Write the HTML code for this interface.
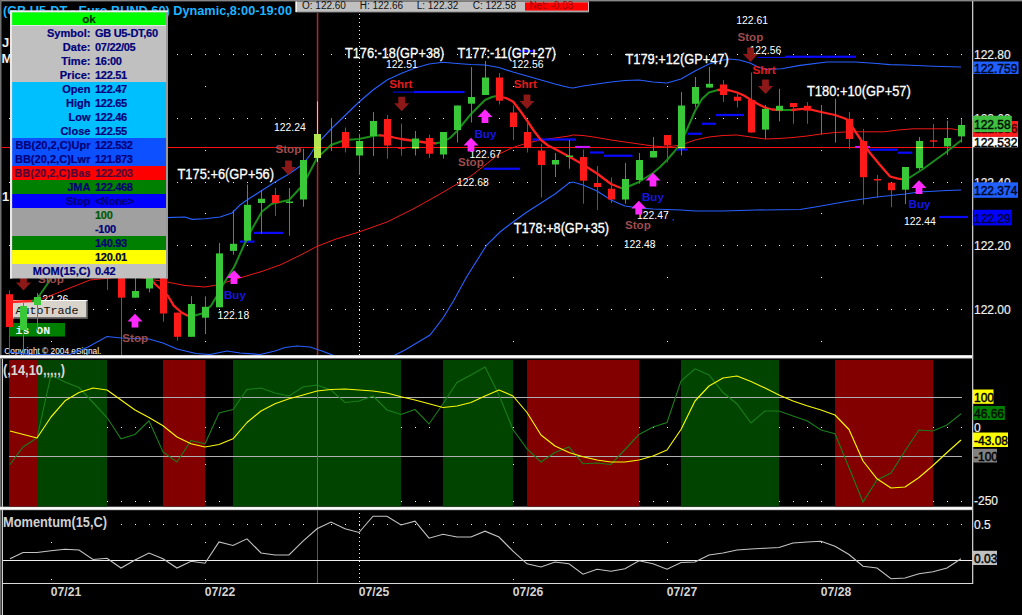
<!DOCTYPE html>
<html><head><meta charset="utf-8"><title>GB U5-DT Euro BUND 60</title>
<style>html,body{margin:0;padding:0;background:#000;}body{width:1022px;height:615px;overflow:hidden;}svg{display:block;font-family:"Liberation Sans",Arial,sans-serif;}.mono{font-family:"Liberation Mono","Courier New",monospace;}</style>
</head><body>
<svg width="1022" height="615" viewBox="0 0 1022 615" shape-rendering="auto">
<defs><clipPath id="mc"><rect x="2" y="2" width="970" height="353"/></clipPath>
<clipPath id="p2"><rect x="3" y="360" width="969" height="147"/></clipPath>
<clipPath id="p3"><rect x="3" y="510" width="969" height="73"/></clipPath></defs>
<rect width="1022" height="615" fill="#000"/>
<rect x="0" y="0" width="1022" height="1.4" fill="#868686"/>
<rect x="0" y="0" width="1.5" height="615" fill="#707070"/>
<rect x="2" y="359" width="1" height="256" fill="#d0d0d0"/>
<text x="3.0" y="14.7" font-size="13.5" fill="#1eb4ff" font-weight="bold" text-anchor="start" textLength="289" lengthAdjust="spacingAndGlyphs">(GB U5-DT - Euro BUND 60) Dynamic,8:00-19:00</text>
<text x="2.0" y="46.7" font-size="13" fill="#f0f0f0" font-weight="bold" text-anchor="start" >J</text>
<text x="1.5" y="63.2" font-size="13" fill="#f0f0f0" font-weight="bold" text-anchor="start" >M</text>
<text x="2.0" y="200.7" font-size="13" fill="#f0f0f0" font-weight="bold" text-anchor="start" >1</text>
<g clip-path="url(#mc)">
<path d="M9,54h1v1h-1zM23,54h1v1h-1zM37,54h1v1h-1zM51,54h1v1h-1zM65,54h1v1h-1zM79,54h1v1h-1zM93,54h1v1h-1zM107,54h1v1h-1zM121,54h1v1h-1zM135,54h1v1h-1zM149,54h1v1h-1zM163,54h1v1h-1zM177,54h1v1h-1zM191,54h1v1h-1zM205,54h1v1h-1zM219,54h1v1h-1zM233,54h1v1h-1zM247,54h1v1h-1zM261,54h1v1h-1zM275,54h1v1h-1zM289,54h1v1h-1zM303,54h1v1h-1zM317,54h1v1h-1zM331,54h1v1h-1zM345,54h1v1h-1zM359,54h1v1h-1zM373,54h1v1h-1zM387,54h1v1h-1zM401,54h1v1h-1zM415,54h1v1h-1zM429,54h1v1h-1zM443,54h1v1h-1zM457,54h1v1h-1zM471,54h1v1h-1zM485,54h1v1h-1zM499,54h1v1h-1zM513,54h1v1h-1zM527,54h1v1h-1zM541,54h1v1h-1zM555,54h1v1h-1zM569,54h1v1h-1zM583,54h1v1h-1zM597,54h1v1h-1zM611,54h1v1h-1zM625,54h1v1h-1zM639,54h1v1h-1zM653,54h1v1h-1zM667,54h1v1h-1zM681,54h1v1h-1zM695,54h1v1h-1zM709,54h1v1h-1zM723,54h1v1h-1zM737,54h1v1h-1zM751,54h1v1h-1zM765,54h1v1h-1zM779,54h1v1h-1zM793,54h1v1h-1zM807,54h1v1h-1zM821,54h1v1h-1zM835,54h1v1h-1zM849,54h1v1h-1zM863,54h1v1h-1zM877,54h1v1h-1zM891,54h1v1h-1zM905,54h1v1h-1zM919,54h1v1h-1zM933,54h1v1h-1zM947,54h1v1h-1zM961,54h1v1h-1zM9,118h1v1h-1zM23,118h1v1h-1zM37,118h1v1h-1zM51,118h1v1h-1zM65,118h1v1h-1zM79,118h1v1h-1zM93,118h1v1h-1zM107,118h1v1h-1zM121,118h1v1h-1zM135,118h1v1h-1zM149,118h1v1h-1zM163,118h1v1h-1zM177,118h1v1h-1zM191,118h1v1h-1zM205,118h1v1h-1zM219,118h1v1h-1zM233,118h1v1h-1zM247,118h1v1h-1zM261,118h1v1h-1zM275,118h1v1h-1zM289,118h1v1h-1zM303,118h1v1h-1zM317,118h1v1h-1zM331,118h1v1h-1zM345,118h1v1h-1zM359,118h1v1h-1zM373,118h1v1h-1zM387,118h1v1h-1zM401,118h1v1h-1zM415,118h1v1h-1zM429,118h1v1h-1zM443,118h1v1h-1zM457,118h1v1h-1zM471,118h1v1h-1zM485,118h1v1h-1zM499,118h1v1h-1zM513,118h1v1h-1zM527,118h1v1h-1zM541,118h1v1h-1zM555,118h1v1h-1zM569,118h1v1h-1zM583,118h1v1h-1zM597,118h1v1h-1zM611,118h1v1h-1zM625,118h1v1h-1zM639,118h1v1h-1zM653,118h1v1h-1zM667,118h1v1h-1zM681,118h1v1h-1zM695,118h1v1h-1zM709,118h1v1h-1zM723,118h1v1h-1zM737,118h1v1h-1zM751,118h1v1h-1zM765,118h1v1h-1zM779,118h1v1h-1zM793,118h1v1h-1zM807,118h1v1h-1zM821,118h1v1h-1zM835,118h1v1h-1zM849,118h1v1h-1zM863,118h1v1h-1zM877,118h1v1h-1zM891,118h1v1h-1zM905,118h1v1h-1zM919,118h1v1h-1zM933,118h1v1h-1zM947,118h1v1h-1zM961,118h1v1h-1zM9,182h1v1h-1zM23,182h1v1h-1zM37,182h1v1h-1zM51,182h1v1h-1zM65,182h1v1h-1zM79,182h1v1h-1zM93,182h1v1h-1zM107,182h1v1h-1zM121,182h1v1h-1zM135,182h1v1h-1zM149,182h1v1h-1zM163,182h1v1h-1zM177,182h1v1h-1zM191,182h1v1h-1zM205,182h1v1h-1zM219,182h1v1h-1zM233,182h1v1h-1zM247,182h1v1h-1zM261,182h1v1h-1zM275,182h1v1h-1zM289,182h1v1h-1zM303,182h1v1h-1zM317,182h1v1h-1zM331,182h1v1h-1zM345,182h1v1h-1zM359,182h1v1h-1zM373,182h1v1h-1zM387,182h1v1h-1zM401,182h1v1h-1zM415,182h1v1h-1zM429,182h1v1h-1zM443,182h1v1h-1zM457,182h1v1h-1zM471,182h1v1h-1zM485,182h1v1h-1zM499,182h1v1h-1zM513,182h1v1h-1zM527,182h1v1h-1zM541,182h1v1h-1zM555,182h1v1h-1zM569,182h1v1h-1zM583,182h1v1h-1zM597,182h1v1h-1zM611,182h1v1h-1zM625,182h1v1h-1zM639,182h1v1h-1zM653,182h1v1h-1zM667,182h1v1h-1zM681,182h1v1h-1zM695,182h1v1h-1zM709,182h1v1h-1zM723,182h1v1h-1zM737,182h1v1h-1zM751,182h1v1h-1zM765,182h1v1h-1zM779,182h1v1h-1zM793,182h1v1h-1zM807,182h1v1h-1zM821,182h1v1h-1zM835,182h1v1h-1zM849,182h1v1h-1zM863,182h1v1h-1zM877,182h1v1h-1zM891,182h1v1h-1zM905,182h1v1h-1zM919,182h1v1h-1zM933,182h1v1h-1zM947,182h1v1h-1zM961,182h1v1h-1zM9,245h1v1h-1zM23,245h1v1h-1zM37,245h1v1h-1zM51,245h1v1h-1zM65,245h1v1h-1zM79,245h1v1h-1zM93,245h1v1h-1zM107,245h1v1h-1zM121,245h1v1h-1zM135,245h1v1h-1zM149,245h1v1h-1zM163,245h1v1h-1zM177,245h1v1h-1zM191,245h1v1h-1zM205,245h1v1h-1zM219,245h1v1h-1zM233,245h1v1h-1zM247,245h1v1h-1zM261,245h1v1h-1zM275,245h1v1h-1zM289,245h1v1h-1zM303,245h1v1h-1zM317,245h1v1h-1zM331,245h1v1h-1zM345,245h1v1h-1zM359,245h1v1h-1zM373,245h1v1h-1zM387,245h1v1h-1zM401,245h1v1h-1zM415,245h1v1h-1zM429,245h1v1h-1zM443,245h1v1h-1zM457,245h1v1h-1zM471,245h1v1h-1zM485,245h1v1h-1zM499,245h1v1h-1zM513,245h1v1h-1zM527,245h1v1h-1zM541,245h1v1h-1zM555,245h1v1h-1zM569,245h1v1h-1zM583,245h1v1h-1zM597,245h1v1h-1zM611,245h1v1h-1zM625,245h1v1h-1zM639,245h1v1h-1zM653,245h1v1h-1zM667,245h1v1h-1zM681,245h1v1h-1zM695,245h1v1h-1zM709,245h1v1h-1zM723,245h1v1h-1zM737,245h1v1h-1zM751,245h1v1h-1zM765,245h1v1h-1zM779,245h1v1h-1zM793,245h1v1h-1zM807,245h1v1h-1zM821,245h1v1h-1zM835,245h1v1h-1zM849,245h1v1h-1zM863,245h1v1h-1zM877,245h1v1h-1zM891,245h1v1h-1zM905,245h1v1h-1zM919,245h1v1h-1zM933,245h1v1h-1zM947,245h1v1h-1zM961,245h1v1h-1zM9,309h1v1h-1zM23,309h1v1h-1zM37,309h1v1h-1zM51,309h1v1h-1zM65,309h1v1h-1zM79,309h1v1h-1zM93,309h1v1h-1zM107,309h1v1h-1zM121,309h1v1h-1zM135,309h1v1h-1zM149,309h1v1h-1zM163,309h1v1h-1zM177,309h1v1h-1zM191,309h1v1h-1zM205,309h1v1h-1zM219,309h1v1h-1zM233,309h1v1h-1zM247,309h1v1h-1zM261,309h1v1h-1zM275,309h1v1h-1zM289,309h1v1h-1zM303,309h1v1h-1zM317,309h1v1h-1zM331,309h1v1h-1zM345,309h1v1h-1zM359,309h1v1h-1zM373,309h1v1h-1zM387,309h1v1h-1zM401,309h1v1h-1zM415,309h1v1h-1zM429,309h1v1h-1zM443,309h1v1h-1zM457,309h1v1h-1zM471,309h1v1h-1zM485,309h1v1h-1zM499,309h1v1h-1zM513,309h1v1h-1zM527,309h1v1h-1zM541,309h1v1h-1zM555,309h1v1h-1zM569,309h1v1h-1zM583,309h1v1h-1zM597,309h1v1h-1zM611,309h1v1h-1zM625,309h1v1h-1zM639,309h1v1h-1zM653,309h1v1h-1zM667,309h1v1h-1zM681,309h1v1h-1zM695,309h1v1h-1zM709,309h1v1h-1zM723,309h1v1h-1zM737,309h1v1h-1zM751,309h1v1h-1zM765,309h1v1h-1zM779,309h1v1h-1zM793,309h1v1h-1zM807,309h1v1h-1zM821,309h1v1h-1zM835,309h1v1h-1zM849,309h1v1h-1zM863,309h1v1h-1zM877,309h1v1h-1zM891,309h1v1h-1zM905,309h1v1h-1zM919,309h1v1h-1zM933,309h1v1h-1zM947,309h1v1h-1zM961,309h1v1h-1z" fill="#f4f4f4"/>
<path d="M51,86h1v1h-1zM205,86h1v1h-1zM513,86h1v1h-1zM667,86h1v1h-1zM821,86h1v1h-1zM51,150h1v1h-1zM205,150h1v1h-1zM513,150h1v1h-1zM667,150h1v1h-1zM821,150h1v1h-1zM51,213h1v1h-1zM205,213h1v1h-1zM513,213h1v1h-1zM667,213h1v1h-1zM821,213h1v1h-1zM51,277h1v1h-1zM205,277h1v1h-1zM513,277h1v1h-1zM667,277h1v1h-1zM821,277h1v1h-1zM51,341h1v1h-1zM205,341h1v1h-1zM513,341h1v1h-1zM667,341h1v1h-1zM821,341h1v1h-1z" fill="#f4f4f4"/>
<path d="M359,14h1v1h-1zM359,18h1v1h-1zM359,22h1v1h-1zM359,26h1v1h-1zM359,30h1v1h-1zM359,34h1v1h-1zM359,38h1v1h-1zM359,42h1v1h-1zM359,46h1v1h-1zM359,50h1v1h-1zM359,54h1v1h-1zM359,58h1v1h-1zM359,62h1v1h-1zM359,66h1v1h-1zM359,70h1v1h-1zM359,74h1v1h-1zM359,78h1v1h-1zM359,82h1v1h-1zM359,86h1v1h-1zM359,90h1v1h-1zM359,94h1v1h-1zM359,98h1v1h-1zM359,102h1v1h-1zM359,106h1v1h-1zM359,110h1v1h-1zM359,114h1v1h-1zM359,118h1v1h-1zM359,122h1v1h-1zM359,126h1v1h-1zM359,130h1v1h-1zM359,134h1v1h-1zM359,138h1v1h-1zM359,142h1v1h-1zM359,146h1v1h-1zM359,150h1v1h-1zM359,154h1v1h-1zM359,158h1v1h-1zM359,162h1v1h-1zM359,166h1v1h-1zM359,170h1v1h-1zM359,174h1v1h-1zM359,178h1v1h-1zM359,182h1v1h-1zM359,186h1v1h-1zM359,190h1v1h-1zM359,194h1v1h-1zM359,198h1v1h-1zM359,202h1v1h-1zM359,206h1v1h-1zM359,210h1v1h-1zM359,214h1v1h-1zM359,218h1v1h-1zM359,222h1v1h-1zM359,226h1v1h-1zM359,230h1v1h-1zM359,234h1v1h-1zM359,238h1v1h-1zM359,242h1v1h-1zM359,246h1v1h-1zM359,250h1v1h-1zM359,254h1v1h-1zM359,258h1v1h-1zM359,262h1v1h-1zM359,266h1v1h-1zM359,270h1v1h-1zM359,274h1v1h-1zM359,278h1v1h-1zM359,282h1v1h-1zM359,286h1v1h-1zM359,290h1v1h-1zM359,294h1v1h-1zM359,298h1v1h-1zM359,302h1v1h-1zM359,306h1v1h-1zM359,310h1v1h-1zM359,314h1v1h-1zM359,318h1v1h-1zM359,322h1v1h-1zM359,326h1v1h-1zM359,330h1v1h-1zM359,334h1v1h-1zM359,338h1v1h-1zM359,342h1v1h-1zM359,346h1v1h-1zM359,350h1v1h-1zM359,354h1v1h-1z" fill="#f4f4f4"/>
<text x="36.5" y="302.7" font-size="10.4" fill="#ffffff" font-weight="normal" text-anchor="start" >122.26</text>
<rect x="13" y="300.5" width="74.5" height="18" fill="#d8d4cc"/>
<path d="M13,318.5 V300.5 H87.5" fill="none" stroke="#ffffff" stroke-width="1.2"/>
<path d="M13.5,318 H87 V301" fill="none" stroke="#505050" stroke-width="1.4"/>
<text x="15.5" y="313.8" font-size="11.6" fill="#101010" class="mono" textLength="63" lengthAdjust="spacingAndGlyphs">AutoTrade</text>
<rect x="10" y="323" width="55" height="13.5" fill="#008000"/>
<text x="15.5" y="334" font-size="11.6" fill="#f4f4f4" font-weight="bold" class="mono" xml:space="preserve">is ON</text>
<text x="4.3" y="354.0" font-size="9.4" fill="#ffffff" font-weight="normal" text-anchor="start" textLength="97" lengthAdjust="spacingAndGlyphs">Copyright © 2004 eSignal.</text>
<rect x="316.8" y="13" width="1.5" height="342" fill="#a82c2c"/>
<rect x="2" y="147" width="970" height="1" fill="#ff1010"/>
<polyline points="150.0,222.0 167.0,217.6 185.0,217.0 192.0,219.3 205.0,218.8 220.0,217.0 232.0,213.0 240.0,205.0 247.0,200.0 261.0,191.0 275.0,182.0 289.0,174.0 303.0,164.0 310.0,155.0 317.0,144.0 331.0,129.0 345.0,115.5 359.0,102.0 373.0,90.0 387.0,80.0 401.0,73.5 415.0,68.0 429.0,64.0 443.0,62.3 457.0,63.5 471.0,64.5 485.0,65.0 499.0,67.5 513.0,72.0 527.0,76.0 541.0,80.0 555.0,84.0 569.0,87.5 573.0,88.0 583.0,86.0 597.0,84.0 611.0,82.0 625.0,80.5 639.0,80.0 653.0,82.0 667.0,83.0 681.0,79.0 695.0,71.0 709.0,64.0 723.0,60.0 730.0,59.0 739.4,60.0 750.0,63.0 758.0,67.0 766.0,69.3 781.7,68.8 800.0,65.4 827.0,62.0 855.0,62.0 877.0,63.5 890.0,64.6 905.0,65.0 933.0,66.2 961.0,67.0" fill="none" stroke="#2860ff" stroke-width="1.15" />
<polyline points="9.0,352.0 30.0,354.5 68.0,355.0 88.0,347.0 107.0,336.5 121.0,338.0 149.0,339.0 163.0,343.0 177.0,349.0 196.0,353.5 210.0,354.5 227.0,351.0 240.0,353.0 260.0,354.5 275.0,351.0 285.0,347.5 297.0,346.0 310.0,347.0 322.0,351.0 335.0,356.0 360.0,362.0 393.0,356.0 405.0,350.0 430.0,335.0 443.0,318.0 453.0,301.7 466.7,276.7 486.7,245.0 500.0,232.0 513.0,222.0 527.0,212.0 541.0,203.0 555.0,194.0 569.0,183.0 573.0,182.0 583.0,185.0 597.0,191.0 611.0,200.0 625.0,206.0 639.0,208.0 653.0,209.0 681.0,210.0 695.0,211.0 723.0,211.0 756.0,210.0 780.0,209.8 800.0,209.5 821.0,206.0 849.0,201.0 877.0,197.0 905.0,194.0 919.0,192.0 947.0,190.5 961.0,190.0" fill="none" stroke="#2860ff" stroke-width="1.15" />
<polyline points="39.0,300.0 42.0,299.0 90.0,280.0 130.0,276.0 167.0,282.0 185.0,285.5 205.0,287.0 217.0,285.0 225.0,282.5 242.0,277.3 262.0,271.4 281.0,264.6 301.0,254.8 317.0,246.4 336.0,239.0 359.0,232.0 387.0,222.0 415.0,208.0 440.0,194.0 457.0,184.0 471.0,176.0 485.0,165.0 499.0,154.0 513.0,147.5 527.0,143.0 541.0,140.0 555.0,138.0 569.0,136.0 573.0,135.0 583.0,135.5 597.0,137.5 611.0,140.0 625.0,142.0 639.0,144.0 653.0,146.0 667.0,147.0 681.0,145.0 695.0,140.0 709.0,137.0 723.0,135.5 737.0,135.0 751.0,137.0 765.0,139.0 779.0,138.5 793.0,137.5 807.0,136.0 821.0,134.0 835.0,132.5 849.0,131.8 884.0,131.8 898.0,130.0 913.0,128.8 952.0,128.8 958.0,130.0 961.0,130.5" fill="none" stroke="#f01818" stroke-width="1.0" />
<rect x="240" y="240.50" width="14.5" height="2.2" fill="#0a0aff"/>
<rect x="254" y="231.80" width="29.0" height="2.2" fill="#0a0aff"/>
<rect x="414" y="90.90" width="50.5" height="2.2" fill="#0a0aff"/>
<rect x="483.75" y="167.65" width="36.2" height="2.2" fill="#0a0aff"/>
<rect x="520" y="49.90" width="16.0" height="2.2" fill="#0a0aff"/>
<rect x="532.5" y="138.40" width="43.5" height="2.2" fill="#0a0aff"/>
<rect x="590" y="151.40" width="14.0" height="2.2" fill="#0a0aff"/>
<rect x="604" y="154.65" width="28.5" height="2.2" fill="#0a0aff"/>
<rect x="675.5" y="148.40" width="12.0" height="2.2" fill="#0a0aff"/>
<rect x="687.5" y="132.65" width="14.5" height="2.2" fill="#0a0aff"/>
<rect x="702" y="122.65" width="14.0" height="2.2" fill="#0a0aff"/>
<rect x="716" y="113.90" width="28.0" height="2.2" fill="#0a0aff"/>
<rect x="785" y="55.65" width="71.0" height="2.2" fill="#0a0aff"/>
<rect x="869.7" y="148.60" width="28.1" height="2.2" fill="#0a0aff"/>
<rect x="897.8" y="151.60" width="14.5" height="2.2" fill="#0a0aff"/>
<rect x="939" y="215.90" width="29.0" height="2.2" fill="#0a0aff"/>
<rect x="393" y="91.6" width="21" height="1" fill="#0a0aff"/>
<rect x="757.5" y="56.9" width="27.5" height="1" fill="#0a0aff"/>
<rect x="575" y="145.90" width="15.0" height="2.2" fill="#c814ff"/>
<rect x="855" y="145.90" width="15.0" height="2.2" fill="#c814ff"/>
<polyline points="9.0,302.0 20.0,301.5 33.0,301.0" fill="none" stroke="#ff2020" stroke-width="2.3" stroke-linejoin="round" stroke-linecap="round"/>
<polyline points="33.0,301.0 37.0,299.0 47.0,284.5 52.0,276.0" fill="none" stroke="#1a8c1a" stroke-width="2.0" stroke-linejoin="round" stroke-linecap="round"/>
<polyline points="150.0,278.0 155.0,284.0 163.0,291.0 168.0,296.0 173.7,305.7 181.5,312.5 187.4,315.5 191.0,316.0" fill="none" stroke="#ff2020" stroke-width="2.3" stroke-linejoin="round" stroke-linecap="round"/>
<polyline points="191.0,316.0 195.0,315.5 202.0,313.5 211.0,305.7 218.0,294.0 224.6,282.0 234.4,266.5 244.0,245.0 252.0,229.0 261.8,211.7 271.5,204.0 280.0,202.0 289.0,200.0 303.0,185.0 317.0,158.0 331.0,145.0 345.0,140.0 359.0,139.0 373.0,136.0 380.0,135.3" fill="none" stroke="#1a8c1a" stroke-width="2.0" stroke-linejoin="round" stroke-linecap="round"/>
<polyline points="380.0,135.3 387.0,135.8 394.0,137.5 401.0,139.0 415.0,141.0 429.0,143.0 436.0,143.3" fill="none" stroke="#ff2020" stroke-width="2.3" stroke-linejoin="round" stroke-linecap="round"/>
<polyline points="436.0,143.3 443.0,142.0 450.0,138.0 457.0,131.0 471.0,114.0 485.0,100.0 492.0,97.0 497.0,96.0" fill="none" stroke="#1a8c1a" stroke-width="2.0" stroke-linejoin="round" stroke-linecap="round"/>
<polyline points="497.0,96.0 506.0,98.0 513.0,101.5 520.0,110.5 527.0,120.5 534.0,131.0 541.0,140.0 548.0,145.5 555.0,149.0 569.0,156.5 583.0,164.5 597.0,173.5 611.0,184.0 621.0,188.0" fill="none" stroke="#ff2020" stroke-width="2.3" stroke-linejoin="round" stroke-linecap="round"/>
<polyline points="621.0,188.0 626.0,187.5 639.0,182.0 653.0,173.0 660.0,167.0 667.0,160.0 674.0,152.0 681.0,143.0 688.0,127.0 695.0,111.0 702.0,99.0 709.0,92.5 718.0,90.0" fill="none" stroke="#1a8c1a" stroke-width="2.0" stroke-linejoin="round" stroke-linecap="round"/>
<polyline points="718.0,90.0 723.0,89.5 730.0,90.5 737.0,92.5 744.0,95.5 751.0,100.0 758.0,104.0 765.0,107.5 772.0,109.5 782.0,110.0" fill="none" stroke="#ff2020" stroke-width="2.3" stroke-linejoin="round" stroke-linecap="round"/>
<polyline points="782.0,110.0 792.0,110.0" fill="none" stroke="#1a8c1a" stroke-width="2.0" stroke-linejoin="round" stroke-linecap="round"/>
<polyline points="792.0,110.0 800.0,109.2 807.0,108.7 821.0,112.0 835.0,115.0 845.0,118.5 849.0,121.0 855.0,131.0 863.0,143.0 870.0,153.0 880.0,165.0 890.0,176.5 898.0,178.7 904.0,179.3" fill="none" stroke="#ff2020" stroke-width="2.3" stroke-linejoin="round" stroke-linecap="round"/>
<polyline points="909.0,178.0 923.0,169.0 945.4,152.7 961.0,140.5" fill="none" stroke="#1a8c1a" stroke-width="2.0" stroke-linejoin="round" stroke-linecap="round"/>
<rect x="9" y="290.3" width="1" height="64.7" fill="#e02020"/>
<rect x="6" y="294.2" width="7" height="32.8" fill="#ff1a1a"/>
<rect x="23" y="303.0" width="1" height="52.0" fill="#2aa62a"/>
<rect x="20" y="306.0" width="7" height="24.0" fill="#38c838"/>
<rect x="37" y="293.0" width="1" height="37.5" fill="#2aa62a"/>
<rect x="34" y="297.0" width="7" height="8.0" fill="#38c838"/>
<rect x="107" y="270.0" width="1" height="20.0" fill="#e02020"/>
<rect x="104" y="272.0" width="7" height="4.0" fill="#ff1a1a"/>
<rect x="121" y="270.0" width="1" height="86.0" fill="#c83232"/>
<rect x="118" y="272.0" width="7" height="25.7" fill="#ff1a1a"/>
<rect x="135" y="278.0" width="1" height="19.7" fill="#2aa62a"/>
<rect x="132" y="291.0" width="7" height="6.7" fill="#38c838"/>
<rect x="149" y="270.0" width="1" height="22.4" fill="#2aa62a"/>
<rect x="146" y="272.0" width="7" height="16.5" fill="#38c838"/>
<rect x="163" y="270.0" width="1" height="51.8" fill="#e02020"/>
<rect x="160" y="272.0" width="7" height="41.5" fill="#ff1a1a"/>
<rect x="177" y="312.6" width="1" height="28.0" fill="#e02020"/>
<rect x="174" y="312.6" width="7" height="24.2" fill="#ff1a1a"/>
<rect x="191" y="296.2" width="1" height="40.6" fill="#2aa62a"/>
<rect x="188" y="304.0" width="7" height="32.8" fill="#38c838"/>
<rect x="205" y="296.4" width="1" height="37.6" fill="#2aa62a"/>
<rect x="202" y="306.8" width="7" height="10.9" fill="#38c838"/>
<rect x="219" y="243.0" width="1" height="64.3" fill="#2aa62a"/>
<rect x="216" y="253.4" width="7" height="53.9" fill="#38c838"/>
<rect x="233" y="210.4" width="1" height="44.3" fill="#2aa62a"/>
<rect x="230" y="243.8" width="7" height="7.1" fill="#38c838"/>
<rect x="247" y="184.5" width="1" height="56.1" fill="#2aa62a"/>
<rect x="244" y="204.8" width="7" height="35.8" fill="#38c838"/>
<rect x="261" y="190.0" width="1" height="43.7" fill="#2aa62a"/>
<rect x="258" y="198.7" width="7" height="4.3" fill="#38c838"/>
<rect x="275" y="188.0" width="1" height="28.0" fill="#e02020"/>
<rect x="272" y="195.0" width="7" height="8.0" fill="#ff1a1a"/>
<rect x="289" y="188.0" width="1" height="47.7" fill="#2aa62a"/>
<rect x="286" y="201.5" width="7" height="1.5" fill="#38c838"/>
<rect x="303" y="148.7" width="1" height="58.0" fill="#2aa62a"/>
<rect x="300" y="160.0" width="7" height="39.5" fill="#38c838"/>
<rect x="317" y="101.4" width="1" height="60.6" fill="#e0d060"/>
<rect x="314" y="134.0" width="7" height="24.0" fill="#b4e650"/>
<rect x="331" y="118.0" width="1" height="33.0" fill="#2aa62a"/>
<rect x="345" y="127.5" width="1" height="25.0" fill="#e02020"/>
<rect x="342" y="132.0" width="7" height="15.0" fill="#ff1a1a"/>
<rect x="359" y="133.7" width="1" height="41.3" fill="#2aa62a"/>
<rect x="356" y="141.0" width="7" height="14.5" fill="#38c838"/>
<rect x="373" y="112.0" width="1" height="44.0" fill="#2aa62a"/>
<rect x="370" y="121.0" width="7" height="15.0" fill="#38c838"/>
<rect x="387" y="115.0" width="1" height="43.7" fill="#e02020"/>
<rect x="384" y="119.0" width="7" height="26.5" fill="#ff1a1a"/>
<rect x="401" y="123.6" width="1" height="32.1" fill="#e02020"/>
<rect x="398" y="147.5" width="7" height="1.3" fill="#ff1a1a"/>
<rect x="415" y="131.0" width="1" height="24.5" fill="#2aa62a"/>
<rect x="412" y="138.5" width="7" height="10.2" fill="#38c838"/>
<rect x="429" y="134.5" width="1" height="23.5" fill="#e02020"/>
<rect x="426" y="138.0" width="7" height="15.7" fill="#ff1a1a"/>
<rect x="443" y="132.0" width="1" height="26.7" fill="#2aa62a"/>
<rect x="440" y="132.0" width="7" height="22.5" fill="#38c838"/>
<rect x="457" y="105.5" width="1" height="37.0" fill="#2aa62a"/>
<rect x="454" y="105.5" width="7" height="24.5" fill="#38c838"/>
<rect x="471" y="67.0" width="1" height="55.5" fill="#2aa62a"/>
<rect x="468" y="97.0" width="7" height="6.7" fill="#38c838"/>
<rect x="485" y="61.0" width="1" height="34.0" fill="#2aa62a"/>
<rect x="482" y="77.5" width="7" height="17.5" fill="#38c838"/>
<rect x="499" y="73.0" width="1" height="31.5" fill="#e02020"/>
<rect x="496" y="77.5" width="7" height="23.2" fill="#ff1a1a"/>
<rect x="513" y="105.5" width="1" height="34.5" fill="#e02020"/>
<rect x="510" y="112.5" width="7" height="14.5" fill="#ff1a1a"/>
<rect x="527" y="122.5" width="1" height="30.0" fill="#e02020"/>
<rect x="524" y="132.0" width="7" height="16.0" fill="#ff1a1a"/>
<rect x="541" y="143.7" width="1" height="53.8" fill="#e02020"/>
<rect x="538" y="150.5" width="7" height="14.5" fill="#ff1a1a"/>
<rect x="555" y="153.0" width="1" height="24.0" fill="#2aa62a"/>
<rect x="552" y="160.0" width="7" height="4.5" fill="#38c838"/>
<rect x="569" y="140.0" width="1" height="28.7" fill="#2aa62a"/>
<rect x="566" y="155.5" width="7" height="1.5" fill="#38c838"/>
<rect x="583" y="149.5" width="1" height="54.2" fill="#e02020"/>
<rect x="580" y="157.0" width="7" height="23.7" fill="#ff1a1a"/>
<rect x="597" y="166.0" width="1" height="44.0" fill="#e02020"/>
<rect x="594" y="183.0" width="7" height="4.0" fill="#ff1a1a"/>
<rect x="611" y="177.5" width="1" height="25.5" fill="#e02020"/>
<rect x="608" y="188.7" width="7" height="10.8" fill="#ff1a1a"/>
<rect x="625" y="163.0" width="1" height="40.7" fill="#2aa62a"/>
<rect x="622" y="179.0" width="7" height="20.5" fill="#38c838"/>
<rect x="639" y="153.0" width="1" height="30.7" fill="#2aa62a"/>
<rect x="636" y="160.0" width="7" height="20.0" fill="#38c838"/>
<rect x="653" y="137.0" width="1" height="20.5" fill="#2aa62a"/>
<rect x="650" y="151.0" width="7" height="6.5" fill="#38c838"/>
<rect x="667" y="135.0" width="1" height="27.5" fill="#e02020"/>
<rect x="664" y="135.0" width="7" height="10.5" fill="#ff1a1a"/>
<rect x="681" y="92.0" width="1" height="63.5" fill="#2aa62a"/>
<rect x="678" y="105.5" width="7" height="43.0" fill="#38c838"/>
<rect x="695" y="77.0" width="1" height="30.5" fill="#2aa62a"/>
<rect x="692" y="87.0" width="7" height="16.8" fill="#38c838"/>
<rect x="709" y="67.0" width="1" height="20.5" fill="#2aa62a"/>
<rect x="706" y="83.8" width="7" height="3.8" fill="#38c838"/>
<rect x="723" y="80.0" width="1" height="22.0" fill="#e02020"/>
<rect x="720" y="84.5" width="7" height="10.5" fill="#ff1a1a"/>
<rect x="737" y="93.5" width="1" height="14.0" fill="#e02020"/>
<rect x="734" y="96.7" width="7" height="4.1" fill="#ff1a1a"/>
<rect x="751" y="72.5" width="1" height="60.0" fill="#c83232"/>
<rect x="748" y="100.0" width="7" height="32.5" fill="#ff1a1a"/>
<rect x="765" y="105.0" width="1" height="33.8" fill="#2aa62a"/>
<rect x="762" y="108.8" width="7" height="20.8" fill="#38c838"/>
<rect x="779" y="88.8" width="1" height="32.5" fill="#2aa62a"/>
<rect x="776" y="105.8" width="7" height="4.8" fill="#38c838"/>
<rect x="793" y="103.0" width="1" height="20.8" fill="#e02020"/>
<rect x="790" y="103.0" width="7" height="4.0" fill="#ff1a1a"/>
<rect x="807" y="102.0" width="1" height="21.8" fill="#e02020"/>
<rect x="804" y="105.8" width="7" height="4.8" fill="#ff1a1a"/>
<rect x="821" y="105.0" width="1" height="29.5" fill="#2aa62a"/>
<rect x="835" y="98.8" width="1" height="43.8" fill="#2aa62a"/>
<rect x="849" y="112.0" width="1" height="37.0" fill="#e02020"/>
<rect x="846" y="118.8" width="7" height="20.2" fill="#ff1a1a"/>
<rect x="863" y="128.8" width="1" height="75.7" fill="#e02020"/>
<rect x="860" y="141.0" width="7" height="36.2" fill="#ff1a1a"/>
<rect x="877" y="175.0" width="1" height="22.7" fill="#e02020"/>
<rect x="874" y="179.0" width="7" height="1.5" fill="#ff1a1a"/>
<rect x="891" y="182.7" width="1" height="24.6" fill="#e02020"/>
<rect x="888" y="182.7" width="7" height="7.5" fill="#ff1a1a"/>
<rect x="905" y="167.0" width="1" height="37.0" fill="#2aa62a"/>
<rect x="902" y="167.0" width="7" height="22.7" fill="#38c838"/>
<rect x="919" y="137.0" width="1" height="33.0" fill="#2aa62a"/>
<rect x="916" y="141.0" width="7" height="27.2" fill="#38c838"/>
<rect x="933" y="123.8" width="1" height="23.2" fill="#e02020"/>
<rect x="930" y="140.3" width="7" height="1.4" fill="#ff1a1a"/>
<rect x="947" y="120.6" width="1" height="34.4" fill="#2aa62a"/>
<rect x="944" y="138.0" width="7" height="8.4" fill="#38c838"/>
<rect x="961" y="118.8" width="1" height="23.8" fill="#2aa62a"/>
<rect x="958" y="125.0" width="7" height="11.4" fill="#38c838"/>
<rect x="314" y="147" width="7" height="1" fill="#e8e040"/>
<rect x="356" y="147" width="7" height="1" fill="#e8e040"/>
<rect x="412" y="147" width="7" height="1" fill="#e8e040"/>
<rect x="440" y="147" width="7" height="1" fill="#e8e040"/>
<rect x="678" y="147" width="7" height="1" fill="#e8e040"/>
<rect x="916" y="147" width="7" height="1" fill="#e8e040"/>
<text x="274.0" y="131.2" font-size="10.4" fill="#ffffff" font-weight="normal" text-anchor="start" >122.24</text>
<text x="386.0" y="67.5" font-size="10.4" fill="#ffffff" font-weight="normal" text-anchor="start" >122.51</text>
<text x="511.7" y="67.5" font-size="10.4" fill="#ffffff" font-weight="normal" text-anchor="start" >122.56</text>
<text x="469.5" y="157.5" font-size="10.4" fill="#ffffff" font-weight="normal" text-anchor="start" >122.67</text>
<text x="457.0" y="186.2" font-size="10.4" fill="#ffffff" font-weight="normal" text-anchor="start" >122.68</text>
<text x="637.0" y="219.2" font-size="10.4" fill="#ffffff" font-weight="normal" text-anchor="start" >122.47</text>
<text x="623.7" y="248.2" font-size="10.4" fill="#ffffff" font-weight="normal" text-anchor="start" >122.48</text>
<text x="736.2" y="23.7" font-size="10.4" fill="#ffffff" font-weight="normal" text-anchor="start" >122.61</text>
<text x="749.5" y="54.2" font-size="10.4" fill="#ffffff" font-weight="normal" text-anchor="start" >122.56</text>
<text x="904.0" y="225.3" font-size="10.4" fill="#ffffff" font-weight="normal" text-anchor="start" >122.44</text>
<text x="217.4" y="319.1" font-size="10.4" fill="#ffffff" font-weight="normal" text-anchor="start" >122.18</text>
<path d="M20.1,276 h6.8 v6.6 h4.1 l-7.5,7.9 l-7.5,-7.9 h4.1 z" fill="#8c1818"/>
<path d="M285.1,160.5 h6.8 v6.6 h4.1 l-7.5,7.9 l-7.5,-7.9 h4.1 z" fill="#8c1818"/>
<path d="M398.3,96.7 h6.8 v6.6 h4.1 l-7.5,7.9 l-7.5,-7.9 h4.1 z" fill="#8c1818"/>
<path d="M523.6,94.5 h6.8 v6.6 h4.1 l-7.5,7.9 l-7.5,-7.9 h4.1 z" fill="#8c1818"/>
<path d="M747.1,47.5 h6.8 v6.6 h4.1 l-7.5,7.9 l-7.5,-7.9 h4.1 z" fill="#8c1818"/>
<path d="M762.1,79.5 h6.8 v6.6 h4.1 l-7.5,7.9 l-7.5,-7.9 h4.1 z" fill="#8c1818"/>
<path d="M135,313.7 l7.5,7.9 h-4.1 v6 h-6.8 v-6 h-4.1 z" fill="#ff28ff"/>
<path d="M234,270.2 l7.5,7.9 h-4.1 v6 h-6.8 v-6 h-4.1 z" fill="#ff28ff"/>
<path d="M471,137.7 l7.5,7.9 h-4.1 v6 h-6.8 v-6 h-4.1 z" fill="#ff28ff"/>
<path d="M485,109.2 l7.5,7.9 h-4.1 v6 h-6.8 v-6 h-4.1 z" fill="#ff28ff"/>
<path d="M653,172.7 l7.5,7.9 h-4.1 v6 h-6.8 v-6 h-4.1 z" fill="#ff28ff"/>
<path d="M638.8,200.7 l7.5,7.9 h-4.1 v6 h-6.8 v-6 h-4.1 z" fill="#ff28ff"/>
<path d="M919,180.2 l7.5,7.9 h-4.1 v6 h-6.8 v-6 h-4.1 z" fill="#ff28ff"/>
<text x="177.5" y="179.0" font-size="14" fill="#ffffff" font-weight="normal" text-anchor="start" stroke="#ffffff" stroke-width="0.3" textLength="96.5" lengthAdjust="spacingAndGlyphs">T175:+6(GP+56)</text>
<text x="345.0" y="58.0" font-size="14" fill="#ffffff" font-weight="normal" text-anchor="start" stroke="#ffffff" stroke-width="0.3" textLength="99.3" lengthAdjust="spacingAndGlyphs">T176:-18(GP+38)</text>
<text x="457.5" y="58.0" font-size="14" fill="#ffffff" font-weight="normal" text-anchor="start" stroke="#ffffff" stroke-width="0.3" textLength="98.5" lengthAdjust="spacingAndGlyphs">T177:-11(GP+27)</text>
<text x="513.7" y="233.0" font-size="14" fill="#ffffff" font-weight="normal" text-anchor="start" stroke="#ffffff" stroke-width="0.3" textLength="95.3" lengthAdjust="spacingAndGlyphs">T178:+8(GP+35)</text>
<text x="625.5" y="63.7" font-size="14" fill="#ffffff" font-weight="normal" text-anchor="start" stroke="#ffffff" stroke-width="0.3" textLength="103.2" lengthAdjust="spacingAndGlyphs">T179:+12(GP+47)</text>
<text x="807.0" y="96.3" font-size="14" fill="#ffffff" font-weight="normal" text-anchor="start" stroke="#ffffff" stroke-width="0.3" textLength="103.8" lengthAdjust="spacingAndGlyphs">T180:+10(GP+57)</text>
<text x="275.5" y="152.6" font-size="11.6" fill="#9c4c4c" font-weight="bold" text-anchor="start" >Stop</text>
<text x="38.0" y="283.0" font-size="11.6" fill="#9c4c4c" font-weight="bold" text-anchor="start" >Stop</text>
<text x="122.3" y="341.9" font-size="11.6" fill="#9c4c4c" font-weight="bold" text-anchor="start" >Stop</text>
<text x="458.0" y="166.1" font-size="11.6" fill="#9c4c4c" font-weight="bold" text-anchor="start" >Stop</text>
<text x="625.0" y="229.1" font-size="11.6" fill="#9c4c4c" font-weight="bold" text-anchor="start" >Stop</text>
<text x="737.5" y="41.1" font-size="11.6" fill="#9c4c4c" font-weight="bold" text-anchor="start" >Stop</text>
<text x="389.3" y="88.4" font-size="11.6" fill="#e21c1c" font-weight="bold" text-anchor="start" >Shrt</text>
<text x="513.7" y="88.1" font-size="11.6" fill="#e21c1c" font-weight="bold" text-anchor="start" >Shrt</text>
<text x="752.5" y="74.4" font-size="11.6" fill="#e21c1c" font-weight="bold" text-anchor="start" >Shrt</text>
<text x="224.0" y="298.6" font-size="11.6" fill="#1616e0" font-weight="bold" text-anchor="start" >Buy</text>
<text x="474.5" y="138.1" font-size="11.6" fill="#1616e0" font-weight="bold" text-anchor="start" >Buy</text>
<text x="642.0" y="200.6" font-size="11.6" fill="#1616e0" font-weight="bold" text-anchor="start" >Buy</text>
<text x="908.6" y="208.1" font-size="11.6" fill="#1616e0" font-weight="bold" text-anchor="start" >Buy</text>
<rect x="672.5" y="219" width="1.4" height="1.4" fill="#2040ff"/>
</g>
<rect x="295.5" y="1.5" width="293.5" height="10.6" fill="#c0c0c0"/>
<rect x="295.5" y="1.5" width="1.5" height="10.6" fill="#f4f4f4"/>
<rect x="297" y="11.6" width="292" height="0.8" fill="#808080"/>
<rect x="525" y="2.4" width="63" height="8.2" fill="#ff0000"/>
<text x="302.0" y="9.3" font-size="10" fill="#101010" font-weight="normal" text-anchor="start" >O: 122.60</text>
<text x="359.7" y="9.3" font-size="10" fill="#101010" font-weight="normal" text-anchor="start" >H: 122.66</text>
<text x="416.7" y="9.3" font-size="10" fill="#101010" font-weight="normal" text-anchor="start" >L: 122.32</text>
<text x="472.7" y="9.3" font-size="10" fill="#101010" font-weight="normal" text-anchor="start" >C: 122.58</text>
<text x="529.4" y="9.3" font-size="10" fill="#9a0000" font-weight="normal" text-anchor="start" >Net: -0.03</text>
<g>
<rect x="10" y="10.5" width="158" height="268" fill="#b8b8b8"/>
<rect x="10" y="10.5" width="2.2" height="268" fill="#e8e8e8"/>
<rect x="10" y="10.5" width="158" height="2" fill="#f0f0f0"/>
<rect x="166" y="12" width="2" height="266.5" fill="#9a9a9a"/>
<rect x="12.2" y="12.4" width="153.8" height="12.8" fill="#00ff00"/>
<rect x="12.2" y="25.2" width="153.8" height="1" fill="#f4f4f4"/>
<text x="89.0" y="23.2" font-size="11.5" fill="#003000" font-weight="bold" text-anchor="middle" stroke="#003000" stroke-width="0.2">ok</text>
<rect x="12.2" y="26" width="153.8" height="14" fill="#c0c0c0"/>
<text x="90.5" y="37.3" font-size="11" fill="#000078" font-weight="bold" text-anchor="end" letter-spacing="0.03" stroke="#000078" stroke-width="0.2">Symbol:</text>
<text x="95.0" y="37.3" font-size="11" fill="#000078" font-weight="bold" text-anchor="start" letter-spacing="-0.3" stroke="#000078" stroke-width="0.2">GB U5-DT,60</text>
<rect x="12.2" y="40" width="153.8" height="14" fill="#c0c0c0"/>
<text x="90.5" y="51.3" font-size="11" fill="#000078" font-weight="bold" text-anchor="end" letter-spacing="0.03" stroke="#000078" stroke-width="0.2">Date:</text>
<text x="95.0" y="51.3" font-size="11" fill="#000078" font-weight="bold" text-anchor="start" letter-spacing="-0.3" stroke="#000078" stroke-width="0.2">07/22/05</text>
<rect x="12.2" y="54" width="153.8" height="14" fill="#c0c0c0"/>
<text x="90.5" y="65.3" font-size="11" fill="#000078" font-weight="bold" text-anchor="end" letter-spacing="0.03" stroke="#000078" stroke-width="0.2">Time:</text>
<text x="95.0" y="65.3" font-size="11" fill="#000078" font-weight="bold" text-anchor="start" letter-spacing="-0.3" stroke="#000078" stroke-width="0.2">16:00</text>
<rect x="12.2" y="68" width="153.8" height="14" fill="#c0c0c0"/>
<text x="90.5" y="79.3" font-size="11" fill="#000078" font-weight="bold" text-anchor="end" letter-spacing="0.03" stroke="#000078" stroke-width="0.2">Price:</text>
<text x="95.0" y="79.3" font-size="11" fill="#000078" font-weight="bold" text-anchor="start" letter-spacing="-0.3" stroke="#000078" stroke-width="0.2">122.51</text>
<rect x="12.2" y="82" width="153.8" height="14" fill="#00bfff"/>
<text x="90.5" y="93.3" font-size="11" fill="#000078" font-weight="bold" text-anchor="end" letter-spacing="0.03" stroke="#000078" stroke-width="0.2">Open</text>
<text x="95.0" y="93.3" font-size="11" fill="#000078" font-weight="bold" text-anchor="start" letter-spacing="-0.3" stroke="#000078" stroke-width="0.2">122.47</text>
<rect x="12.2" y="96" width="153.8" height="14" fill="#00bfff"/>
<text x="90.5" y="107.3" font-size="11" fill="#000078" font-weight="bold" text-anchor="end" letter-spacing="0.03" stroke="#000078" stroke-width="0.2">High</text>
<text x="95.0" y="107.3" font-size="11" fill="#000078" font-weight="bold" text-anchor="start" letter-spacing="-0.3" stroke="#000078" stroke-width="0.2">122.65</text>
<rect x="12.2" y="110" width="153.8" height="14" fill="#00bfff"/>
<text x="90.5" y="121.3" font-size="11" fill="#000078" font-weight="bold" text-anchor="end" letter-spacing="0.03" stroke="#000078" stroke-width="0.2">Low</text>
<text x="95.0" y="121.3" font-size="11" fill="#000078" font-weight="bold" text-anchor="start" letter-spacing="-0.3" stroke="#000078" stroke-width="0.2">122.46</text>
<rect x="12.2" y="124" width="153.8" height="14" fill="#00bfff"/>
<text x="90.5" y="135.3" font-size="11" fill="#000078" font-weight="bold" text-anchor="end" letter-spacing="0.03" stroke="#000078" stroke-width="0.2">Close</text>
<text x="95.0" y="135.3" font-size="11" fill="#000078" font-weight="bold" text-anchor="start" letter-spacing="-0.3" stroke="#000078" stroke-width="0.2">122.55</text>
<rect x="12.2" y="138" width="153.8" height="14" fill="#0c50ff"/>
<text x="90.5" y="149.3" font-size="11" fill="#000078" font-weight="bold" text-anchor="end" letter-spacing="0.03" stroke="#000078" stroke-width="0.2">BB(20,2,C)Upr</text>
<text x="95.0" y="149.3" font-size="11" fill="#000078" font-weight="bold" text-anchor="start" letter-spacing="-0.3" stroke="#000078" stroke-width="0.2">122.532</text>
<rect x="12.2" y="152" width="153.8" height="14" fill="#0c50ff"/>
<text x="90.5" y="163.3" font-size="11" fill="#000078" font-weight="bold" text-anchor="end" letter-spacing="0.03" stroke="#000078" stroke-width="0.2">BB(20,2,C)Lwr</text>
<text x="95.0" y="163.3" font-size="11" fill="#000078" font-weight="bold" text-anchor="start" letter-spacing="-0.3" stroke="#000078" stroke-width="0.2">121.873</text>
<rect x="12.2" y="166" width="153.8" height="14" fill="#ff0000"/>
<text x="90.5" y="177.3" font-size="11" fill="#50003c" font-weight="bold" text-anchor="end" letter-spacing="0.03" stroke="#50003c" stroke-width="0.2">BB(20,2,C)Bas</text>
<text x="95.0" y="177.3" font-size="11" fill="#50003c" font-weight="bold" text-anchor="start" letter-spacing="-0.3" stroke="#50003c" stroke-width="0.2">122.203</text>
<rect x="12.2" y="180" width="153.8" height="14" fill="#008000"/>
<text x="90.5" y="191.3" font-size="11" fill="#000078" font-weight="bold" text-anchor="end" letter-spacing="0.03" stroke="#000078" stroke-width="0.2">JMA</text>
<text x="95.0" y="191.3" font-size="11" fill="#000078" font-weight="bold" text-anchor="start" letter-spacing="-0.3" stroke="#000078" stroke-width="0.2">122.468</text>
<rect x="12.2" y="194" width="153.8" height="14" fill="#0000ff"/>
<text x="90.5" y="205.3" font-size="11" fill="#000078" font-weight="bold" text-anchor="end" letter-spacing="0.03" stroke="#000078" stroke-width="0.2">Stop</text>
<text x="95.0" y="205.3" font-size="11" fill="#000078" font-weight="bold" text-anchor="start" letter-spacing="-0.3" stroke="#000078" stroke-width="0.2">&lt;None&gt;</text>
<rect x="12.2" y="208" width="153.8" height="14" fill="#a0a0a0"/>
<text x="95.0" y="219.3" font-size="11" fill="#005a00" font-weight="bold" text-anchor="start" letter-spacing="-0.3" stroke="#005a00" stroke-width="0.2">100</text>
<rect x="12.2" y="222" width="153.8" height="14" fill="#a0a0a0"/>
<text x="95.0" y="233.3" font-size="11" fill="#000078" font-weight="bold" text-anchor="start" letter-spacing="-0.3" stroke="#000078" stroke-width="0.2">-100</text>
<rect x="12.2" y="236" width="153.8" height="14" fill="#008000"/>
<text x="95.0" y="247.3" font-size="11" fill="#000078" font-weight="bold" text-anchor="start" letter-spacing="-0.3" stroke="#000078" stroke-width="0.2">140.93</text>
<rect x="12.2" y="250" width="153.8" height="14" fill="#ffff00"/>
<text x="95.0" y="261.3" font-size="11" fill="#000030" font-weight="bold" text-anchor="start" letter-spacing="-0.3" stroke="#000030" stroke-width="0.2">120.01</text>
<rect x="12.2" y="264" width="153.8" height="14" fill="#c0c0c0"/>
<text x="90.5" y="275.3" font-size="11" fill="#000078" font-weight="bold" text-anchor="end" letter-spacing="0.03" stroke="#000078" stroke-width="0.2">MOM(15,C)</text>
<text x="95.0" y="275.3" font-size="11" fill="#000078" font-weight="bold" text-anchor="start" letter-spacing="-0.3" stroke="#000078" stroke-width="0.2">0.42</text>
</g>
<rect x="972" y="1" width="1.3" height="583" fill="#c8c8c8"/>
<rect x="0" y="355" width="972" height="3.6" fill="#b4b4b4"/>
<rect x="0" y="355.6" width="972" height="2.2" fill="#ffffff"/>
<rect x="0" y="506.6" width="972" height="3.6" fill="#b4b4b4"/>
<rect x="0" y="507.2" width="972" height="2.2" fill="#ffffff"/>
<g clip-path="url(#p2)">
<path d="M9,427h1v1h-1zM23,427h1v1h-1zM37,427h1v1h-1zM51,427h1v1h-1zM65,427h1v1h-1zM79,427h1v1h-1zM93,427h1v1h-1zM107,427h1v1h-1zM121,427h1v1h-1zM135,427h1v1h-1zM149,427h1v1h-1zM163,427h1v1h-1zM177,427h1v1h-1zM191,427h1v1h-1zM205,427h1v1h-1zM219,427h1v1h-1zM233,427h1v1h-1zM247,427h1v1h-1zM261,427h1v1h-1zM275,427h1v1h-1zM289,427h1v1h-1zM303,427h1v1h-1zM317,427h1v1h-1zM331,427h1v1h-1zM345,427h1v1h-1zM359,427h1v1h-1zM373,427h1v1h-1zM387,427h1v1h-1zM401,427h1v1h-1zM415,427h1v1h-1zM429,427h1v1h-1zM443,427h1v1h-1zM457,427h1v1h-1zM471,427h1v1h-1zM485,427h1v1h-1zM499,427h1v1h-1zM513,427h1v1h-1zM527,427h1v1h-1zM541,427h1v1h-1zM555,427h1v1h-1zM569,427h1v1h-1zM583,427h1v1h-1zM597,427h1v1h-1zM611,427h1v1h-1zM625,427h1v1h-1zM639,427h1v1h-1zM653,427h1v1h-1zM667,427h1v1h-1zM681,427h1v1h-1zM695,427h1v1h-1zM709,427h1v1h-1zM723,427h1v1h-1zM737,427h1v1h-1zM751,427h1v1h-1zM765,427h1v1h-1zM779,427h1v1h-1zM793,427h1v1h-1zM807,427h1v1h-1zM821,427h1v1h-1zM835,427h1v1h-1zM849,427h1v1h-1zM863,427h1v1h-1zM877,427h1v1h-1zM891,427h1v1h-1zM905,427h1v1h-1zM919,427h1v1h-1zM933,427h1v1h-1zM947,427h1v1h-1zM961,427h1v1h-1zM9,501h1v1h-1zM23,501h1v1h-1zM37,501h1v1h-1zM51,501h1v1h-1zM65,501h1v1h-1zM79,501h1v1h-1zM93,501h1v1h-1zM107,501h1v1h-1zM121,501h1v1h-1zM135,501h1v1h-1zM149,501h1v1h-1zM163,501h1v1h-1zM177,501h1v1h-1zM191,501h1v1h-1zM205,501h1v1h-1zM219,501h1v1h-1zM233,501h1v1h-1zM247,501h1v1h-1zM261,501h1v1h-1zM275,501h1v1h-1zM289,501h1v1h-1zM303,501h1v1h-1zM317,501h1v1h-1zM331,501h1v1h-1zM345,501h1v1h-1zM359,501h1v1h-1zM373,501h1v1h-1zM387,501h1v1h-1zM401,501h1v1h-1zM415,501h1v1h-1zM429,501h1v1h-1zM443,501h1v1h-1zM457,501h1v1h-1zM471,501h1v1h-1zM485,501h1v1h-1zM499,501h1v1h-1zM513,501h1v1h-1zM527,501h1v1h-1zM541,501h1v1h-1zM555,501h1v1h-1zM569,501h1v1h-1zM583,501h1v1h-1zM597,501h1v1h-1zM611,501h1v1h-1zM625,501h1v1h-1zM639,501h1v1h-1zM653,501h1v1h-1zM667,501h1v1h-1zM681,501h1v1h-1zM695,501h1v1h-1zM709,501h1v1h-1zM723,501h1v1h-1zM737,501h1v1h-1zM751,501h1v1h-1zM765,501h1v1h-1zM779,501h1v1h-1zM793,501h1v1h-1zM807,501h1v1h-1zM821,501h1v1h-1zM835,501h1v1h-1zM849,501h1v1h-1zM863,501h1v1h-1zM877,501h1v1h-1zM891,501h1v1h-1zM905,501h1v1h-1zM919,501h1v1h-1zM933,501h1v1h-1zM947,501h1v1h-1zM961,501h1v1h-1z" fill="#f4f4f4"/>
<path d="M51,464h1v1h-1zM205,464h1v1h-1zM513,464h1v1h-1zM667,464h1v1h-1zM821,464h1v1h-1z" fill="#f4f4f4"/>
<rect x="9" y="360" width="28" height="146.5" fill="#820000"/>
<rect x="37" y="360" width="70" height="146.5" fill="#004400"/>
<rect x="163" y="360" width="42" height="146.5" fill="#820000"/>
<rect x="233" y="360" width="168" height="146.5" fill="#004400"/>
<rect x="443" y="360" width="70" height="146.5" fill="#004400"/>
<rect x="527" y="360" width="112" height="146.5" fill="#820000"/>
<rect x="681" y="360" width="98" height="146.5" fill="#004400"/>
<rect x="835" y="360" width="98" height="146.5" fill="#820000"/>
<rect x="9" y="397" width="953" height="1" fill="#b0b0b0"/>
<rect x="9" y="456" width="953" height="1" fill="#b0b0b0"/>
<rect x="317" y="360" width="1" height="147" fill="#a85c14"/>
<polyline points="10.0,464.5 23.0,447.0 37.0,438.0 51.0,375.0 65.0,382.0 79.0,387.5 93.0,402.5 107.0,417.5 121.0,438.8 135.0,434.5 149.0,420.8 163.0,452.0 177.0,462.0 191.0,440.5 205.0,443.8 219.0,413.0 233.0,409.5 247.0,389.5 261.0,388.0 275.0,393.0 289.0,396.0 303.0,387.0 317.0,385.0 331.0,390.0 345.0,402.5 359.0,401.0 373.0,396.0 387.0,410.0 401.0,414.5 415.0,409.5 429.0,424.0 443.0,403.8 457.0,382.5 471.0,375.0 485.0,367.0 499.0,395.0 513.0,429.5 527.0,448.8 541.0,462.0 555.0,452.5 569.0,447.0 583.0,463.8 597.0,463.0 611.0,464.5 625.0,449.5 639.0,434.5 653.0,427.0 667.0,422.5 681.0,381.0 695.0,368.8 709.0,375.0 723.0,392.5 737.0,404.0 751.0,423.0 765.0,411.0 779.0,411.0 793.0,416.0 807.0,420.8 821.0,430.0 835.0,433.8 849.0,467.5 863.0,502.0 877.0,480.0 891.0,473.0 905.0,451.0 919.0,430.0 933.0,431.0 947.0,425.0 961.0,413.8" fill="none" stroke="#1a7e1a" stroke-width="1.1" />
<polyline points="10.0,431.0 37.0,438.0 51.0,417.0 65.0,400.8 79.0,392.5 93.0,388.0 107.0,390.0 121.0,400.0 135.0,410.0 149.0,417.5 163.0,425.8 177.0,437.0 191.0,443.8 205.0,447.0 219.0,444.5 233.0,438.8 247.0,422.5 261.0,411.0 275.0,403.8 289.0,398.8 303.0,395.0 317.0,391.0 331.0,389.5 345.0,389.0 359.0,390.0 373.0,391.0 387.0,393.0 401.0,396.8 415.0,400.0 429.0,403.8 443.0,407.5 457.0,406.0 471.0,402.5 485.0,396.0 499.0,390.0 513.0,396.0 527.0,412.5 541.0,435.0 555.0,446.0 569.0,452.5 583.0,456.8 597.0,460.0 611.0,462.0 625.0,462.0 639.0,460.0 653.0,456.0 667.0,450.0 681.0,429.5 695.0,401.0 709.0,386.0 723.0,378.0 737.0,376.0 751.0,381.5 765.0,388.0 779.0,395.0 793.0,401.0 807.0,405.8 821.0,410.0 835.0,415.0 849.0,429.5 863.0,461.0 877.0,478.8 891.0,488.0 905.0,487.0 919.0,477.5 933.0,465.5 947.0,452.5 961.0,440.0" fill="none" stroke="#f8f800" stroke-width="1.15" stroke-linejoin="round"/>
</g>
<text x="3.0" y="374.5" font-size="14" fill="#d8d8d8" font-weight="bold" text-anchor="start" textLength="62" lengthAdjust="spacingAndGlyphs">(,14,10,,,,,)</text>
<g clip-path="url(#p3)">
<path d="M121,524h1v1h-1zM135,524h1v1h-1zM149,524h1v1h-1zM163,524h1v1h-1zM177,524h1v1h-1zM191,524h1v1h-1zM205,524h1v1h-1zM219,524h1v1h-1zM233,524h1v1h-1zM247,524h1v1h-1zM261,524h1v1h-1zM275,524h1v1h-1zM289,524h1v1h-1zM303,524h1v1h-1zM317,524h1v1h-1zM331,524h1v1h-1zM345,524h1v1h-1zM359,524h1v1h-1zM373,524h1v1h-1zM387,524h1v1h-1zM401,524h1v1h-1zM415,524h1v1h-1zM429,524h1v1h-1zM443,524h1v1h-1zM457,524h1v1h-1zM471,524h1v1h-1zM485,524h1v1h-1zM499,524h1v1h-1zM513,524h1v1h-1zM527,524h1v1h-1zM541,524h1v1h-1zM555,524h1v1h-1zM569,524h1v1h-1zM583,524h1v1h-1zM597,524h1v1h-1zM611,524h1v1h-1zM625,524h1v1h-1zM639,524h1v1h-1zM653,524h1v1h-1zM667,524h1v1h-1zM681,524h1v1h-1zM695,524h1v1h-1zM709,524h1v1h-1zM723,524h1v1h-1zM737,524h1v1h-1zM751,524h1v1h-1zM765,524h1v1h-1zM779,524h1v1h-1zM793,524h1v1h-1zM807,524h1v1h-1zM821,524h1v1h-1zM835,524h1v1h-1zM849,524h1v1h-1zM863,524h1v1h-1zM877,524h1v1h-1zM891,524h1v1h-1zM905,524h1v1h-1zM919,524h1v1h-1zM933,524h1v1h-1zM947,524h1v1h-1zM961,524h1v1h-1z" fill="#f4f4f4"/>
<path d="M51,542h1v1h-1zM205,542h1v1h-1zM513,542h1v1h-1zM667,542h1v1h-1zM821,542h1v1h-1zM51,579h1v1h-1zM205,579h1v1h-1zM513,579h1v1h-1zM667,579h1v1h-1zM821,579h1v1h-1z" fill="#f4f4f4"/>
<path d="M359,513h1v1h-1zM359,517h1v1h-1zM359,521h1v1h-1zM359,525h1v1h-1zM359,529h1v1h-1zM359,533h1v1h-1zM359,537h1v1h-1zM359,541h1v1h-1zM359,545h1v1h-1zM359,549h1v1h-1zM359,553h1v1h-1zM359,557h1v1h-1zM359,561h1v1h-1zM359,565h1v1h-1zM359,569h1v1h-1zM359,573h1v1h-1zM359,577h1v1h-1zM359,581h1v1h-1z" fill="#f4f4f4"/>
<rect x="317" y="510" width="1" height="73" fill="#c82828"/>
<rect x="3" y="560" width="969" height="1" fill="#f0f0f0"/>
<polyline points="10.0,558.8 23.0,552.5 37.0,552.5 51.0,550.8 65.0,549.2 79.0,550.0 93.0,559.5 107.0,558.2 121.0,568.0 135.0,560.0 149.0,553.0 163.0,558.8 177.0,568.0 191.0,561.2 205.0,563.2 219.0,542.0 233.0,545.5 247.0,538.8 261.0,553.0 275.0,555.0 289.0,555.0 303.0,541.2 317.0,528.8 331.0,522.0 345.0,528.8 359.0,532.5 373.0,516.2 387.0,516.2 401.0,525.0 415.0,521.2 429.0,538.2 443.0,534.2 457.0,537.0 471.0,537.0 485.0,531.2 499.0,537.0 513.0,551.2 527.0,563.8 541.0,567.0 555.0,562.0 569.0,563.8 583.0,574.2 597.0,569.2 611.0,571.2 625.0,568.8 639.0,560.8 653.0,563.8 667.0,569.2 681.0,562.5 695.0,562.0 709.0,555.0 723.0,553.0 737.0,550.0 751.0,549.0 765.0,548.2 779.0,547.5 793.0,543.0 807.0,542.0 821.0,541.2 835.0,546.2 849.0,554.5 863.0,566.2 877.0,568.0 891.0,578.8 905.0,578.0 919.0,573.8 933.0,571.8 947.0,568.0 961.0,558.8" fill="none" stroke="#c4c4c4" stroke-width="1.1" />
</g>
<rect x="2" y="583" width="971" height="1" fill="#d8d8d8"/>
<text x="3.0" y="527.0" font-size="14" fill="#d0d0d0" font-weight="bold" text-anchor="start" textLength="104" lengthAdjust="spacingAndGlyphs">Momentum(15,C)</text>
<text x="50.7" y="596.4" font-size="12.4" fill="#d4d4d4" font-weight="bold" text-anchor="start" textLength="30.5" lengthAdjust="spacingAndGlyphs">07/21</text>
<text x="204.7" y="596.4" font-size="12.4" fill="#d4d4d4" font-weight="bold" text-anchor="start" textLength="30.5" lengthAdjust="spacingAndGlyphs">07/22</text>
<text x="358.7" y="596.4" font-size="12.4" fill="#d4d4d4" font-weight="bold" text-anchor="start" textLength="30.5" lengthAdjust="spacingAndGlyphs">07/25</text>
<text x="512.7" y="596.4" font-size="12.4" fill="#d4d4d4" font-weight="bold" text-anchor="start" textLength="30.5" lengthAdjust="spacingAndGlyphs">07/26</text>
<text x="666.7" y="596.4" font-size="12.4" fill="#d4d4d4" font-weight="bold" text-anchor="start" textLength="30.5" lengthAdjust="spacingAndGlyphs">07/27</text>
<text x="820.7" y="596.4" font-size="12.4" fill="#d4d4d4" font-weight="bold" text-anchor="start" textLength="30.5" lengthAdjust="spacingAndGlyphs">07/28</text>
<text x="974.0" y="58.9" font-size="13.6" fill="#f0f0f0" font-weight="normal" text-anchor="start" stroke="#f0f0f0" stroke-width="0.2" textLength="36.7" lengthAdjust="spacingAndGlyphs">122.80</text>
<text x="974.0" y="122.9" font-size="13.6" fill="#f0f0f0" font-weight="normal" text-anchor="start" stroke="#f0f0f0" stroke-width="0.2" textLength="36.7" lengthAdjust="spacingAndGlyphs">122.60</text>
<text x="974.0" y="186.9" font-size="13.6" fill="#f0f0f0" font-weight="normal" text-anchor="start" stroke="#f0f0f0" stroke-width="0.2" textLength="36.7" lengthAdjust="spacingAndGlyphs">122.40</text>
<text x="974.0" y="249.9" font-size="13.6" fill="#f0f0f0" font-weight="normal" text-anchor="start" stroke="#f0f0f0" stroke-width="0.2" textLength="36.7" lengthAdjust="spacingAndGlyphs">122.20</text>
<text x="974.0" y="313.9" font-size="13.6" fill="#f0f0f0" font-weight="normal" text-anchor="start" stroke="#f0f0f0" stroke-width="0.2" textLength="36.7" lengthAdjust="spacingAndGlyphs">122.00</text>
<rect x="972.8" y="61.5" width="45.7" height="12.5" fill="#2060ff"/><text x="974.0" y="72.7" font-size="13.6" fill="#000820" font-weight="normal" text-anchor="start" stroke="#000820" stroke-width="0.5" textLength="43.4" lengthAdjust="spacingAndGlyphs">122.759</text>
<rect x="972.8" y="121" width="45.2" height="15.9" fill="#ff1e1e"/><text x="974.0" y="133.2" font-size="13.6" fill="#500000" font-weight="normal" text-anchor="start" stroke="#500000" stroke-width="0.5" textLength="43.4" lengthAdjust="spacingAndGlyphs">122.556</text>
<rect x="972.8" y="115.8" width="39.0" height="16.2" fill="#40c040"/><text x="974.0" y="129.2" font-size="13.6" fill="#001000" font-weight="normal" text-anchor="start" stroke="#001000" stroke-width="0.5" textLength="36.7" lengthAdjust="spacingAndGlyphs">122.58</text>
<rect x="972.8" y="136.9" width="45.2" height="10.4" fill="#ffffff"/><text x="974.0" y="146.9" font-size="13.6" fill="#000000" font-weight="normal" text-anchor="start" stroke="#000000" stroke-width="0.5" textLength="43.4" lengthAdjust="spacingAndGlyphs">122.532</text>
<rect x="972.8" y="182.3" width="45.2" height="15.5" fill="#2060ff"/><text x="974.0" y="194.9" font-size="13.6" fill="#000820" font-weight="normal" text-anchor="start" stroke="#000820" stroke-width="0.5" textLength="43.4" lengthAdjust="spacingAndGlyphs">122.374</text>
<rect x="972.8" y="209.8" width="39.0" height="15.6" fill="#0000ff"/><text x="974.0" y="222.5" font-size="13.6" fill="#000040" font-weight="normal" text-anchor="start" stroke="#000040" stroke-width="0.5" textLength="36.7" lengthAdjust="spacingAndGlyphs">122.29</text>
<rect x="972.8" y="389.5" width="20.7" height="14.3" fill="#ffff00"/><text x="974.0" y="401.5" font-size="13.6" fill="#000000" font-weight="normal" text-anchor="start" stroke="#000000" stroke-width="0.5" textLength="20.0" lengthAdjust="spacingAndGlyphs">100</text>
<rect x="972.8" y="406" width="32.0" height="14.0" fill="#008000"/><text x="974.0" y="417.9" font-size="13.6" fill="#001000" font-weight="normal" text-anchor="start" stroke="#001000" stroke-width="0.5" textLength="30.0" lengthAdjust="spacingAndGlyphs">46.66</text>
<text x="974.0" y="431.9" font-size="13.6" fill="#f0f0f0" font-weight="normal" text-anchor="start" stroke="#f0f0f0" stroke-width="0.2" textLength="6.7" lengthAdjust="spacingAndGlyphs">0</text>
<rect x="972.8" y="432.5" width="35.2" height="14.5" fill="#ffff00"/><text x="974.0" y="444.7" font-size="13.6" fill="#000000" font-weight="normal" text-anchor="start" stroke="#000000" stroke-width="0.5" textLength="34.0" lengthAdjust="spacingAndGlyphs">-43.08</text>
<rect x="972.8" y="448.8" width="24.2" height="13.7" fill="#808080"/><text x="974.0" y="460.5" font-size="13.6" fill="#000000" font-weight="normal" text-anchor="start" stroke="#000000" stroke-width="0.5" textLength="24.0" lengthAdjust="spacingAndGlyphs">-100</text>
<text x="974.0" y="505.4" font-size="13.6" fill="#f0f0f0" font-weight="normal" text-anchor="start" stroke="#f0f0f0" stroke-width="0.2" textLength="24.0" lengthAdjust="spacingAndGlyphs">-250</text>
<text x="974.0" y="528.9" font-size="13.6" fill="#f0f0f0" font-weight="normal" text-anchor="start" stroke="#f0f0f0" stroke-width="0.2" textLength="16.7" lengthAdjust="spacingAndGlyphs">0.5</text>
<rect x="972.8" y="550.8" width="24.2" height="14.2" fill="#c0c0c0"/><text x="974.0" y="562.9" font-size="13.6" fill="#000000" font-weight="normal" text-anchor="start" stroke="#000000" stroke-width="0.5" textLength="23.4" lengthAdjust="spacingAndGlyphs">0.03</text>
</svg></body></html>
